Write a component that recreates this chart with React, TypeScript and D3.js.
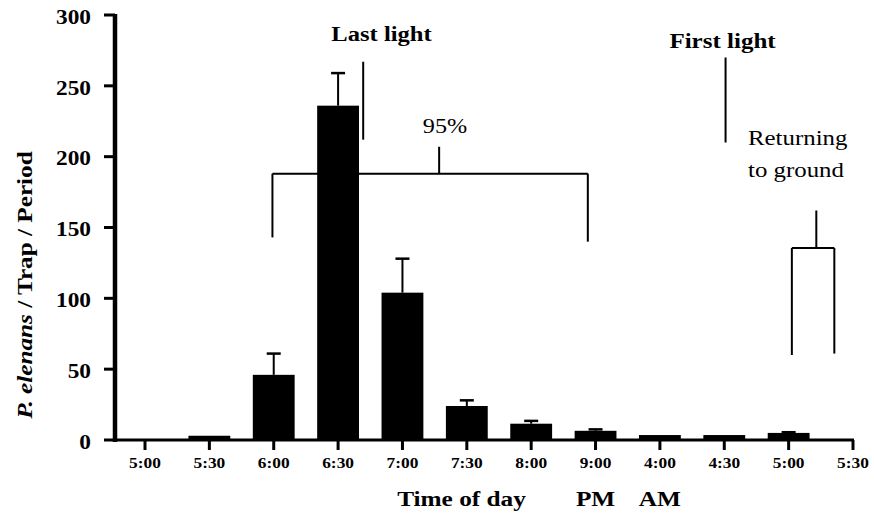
import React from "react";
import * as d3 from "d3";

// period start times along the x axis (evening then morning)
const timeLabels = ["5:00", "5:30", "6:00", "6:30", "7:00", "7:30", "8:00", "9:00", "4:00", "4:30", "5:00", "5:30"];
// mean catch per trap per period (last slot has no bar)
const meanCatch = [0, 3, 46, 236, 104, 24, 11.5, 6.5, 3.5, 3.5, 5, null];
// upper end of the error bar
const errorTop = [null, null, 61, 259, 128, 28, 13.5, 7.5, null, null, 5.5, null];
const yTicks = [0, 50, 100, 150, 200, 250, 300];

const W = 874;
const H = 514;
const font = "Liberation Serif";

// text with the scan's slightly wide lettering
const T = ({ x, y, rot = 0, sx = 1.15, children, ...rest }: any) => (
  <g transform={`translate(${x},${y}) rotate(${rot})`}>
    <text transform={`scale(${sx},1)`} style={{ fontFamily: font }} {...rest}>
      {children}
    </text>
  </g>
);

const App = () => {
  const x = d3.scaleLinear().domain([0, timeLabels.length - 1]).range([145, 853]);
  const y = d3.scaleLinear().domain([0, 300]).range([440, 15]);
  const step = x(1) - x(0);
  const barW = step * 0.65;

  const line = (x1: number, y1: number, x2: number, y2: number, w = 2) => (
    <line x1={x(x1)} y1={y(y1)} x2={x(x2)} y2={y(y2)} stroke="#000" strokeWidth={w} />
  );

  return (
    <svg width={W} height={H} style={{ position: "absolute", left: 0, top: 0, background: "#fff" }}>
      {/* bars */}
      {meanCatch.map((v, i) =>
        v == null ? null : (
          <rect key={"b" + i} x={x(i) - barW / 2} y={y(v)} width={barW} height={y(0) - y(v)} fill="#000" />
        )
      )}
      {/* error bars */}
      {errorTop.map((e, i) =>
        e == null ? null : (
          <g key={"e" + i} stroke="#000" strokeWidth={2}>
            <line x1={x(i)} x2={x(i)} y1={y(meanCatch[i] as number)} y2={y(e)} />
            <line x1={x(i) - 7} x2={x(i) + 7} y1={y(e)} y2={y(e)} strokeWidth={2.5} />
          </g>
        )
      )}

      {/* y axis */}
      <line x1={115} x2={115} y1={y(300) - 1} y2={y(0) + 2} stroke="#000" strokeWidth={4.5} />
      {yTicks.map((t) => (
        <g key={"y" + t}>
          <line x1={104} x2={115} y1={y(t)} y2={y(t)} stroke="#000" strokeWidth={3} />
          <T x={91} y={y(t)} sx={1.06} dy="0.4em" textAnchor="end" fontSize={22} fontWeight="bold">
            {t}
          </T>
        </g>
      ))}

      {/* x axis */}
      <line x1={113} x2={x(11) + 1} y1={y(0)} y2={y(0)} stroke="#000" strokeWidth={3} />
      {timeLabels.map((t, i) => (
        <g key={"x" + i}>
          <line x1={x(i)} x2={x(i)} y1={y(0)} y2={y(0) + 10} stroke="#000" strokeWidth={3} />
          <T x={x(i)} y={468} sx={1.12} textAnchor="middle" fontSize={15.5} fontWeight="bold">
            {t}
          </T>
        </g>
      ))}

      {/* axis titles */}
      <T x={461.5} y={506} textAnchor="middle" fontSize={22} fontWeight="bold">
        Time of day
      </T>
      <T x={x(7)} y={506} textAnchor="middle" fontSize={22} fontWeight="bold">
        PM
      </T>
      <T x={x(8)} y={506} textAnchor="middle" fontSize={22} fontWeight="bold">
        AM
      </T>
      <T x={32} y={285} rot={-90} sx={1.2} textAnchor="middle" fontSize={21} fontWeight="bold">
        <tspan fontStyle="italic">P. elenans</tspan> / Trap / Period
      </T>

      {/* last light */}
      <T x={381.5} y={41} sx={1.17} textAnchor="middle" fontSize={21} fontWeight="bold">
        Last light
      </T>
      {line(3.39, 267, 3.39, 212)}

      {/* 95% bracket */}
      <T x={445} y={133} sx={1.1} textAnchor="middle" fontSize={22}>
        95%
      </T>
      {line(1.98, 188, 6.88, 188)}
      {line(1.98, 188, 1.98, 143)}
      {line(6.88, 188, 6.88, 140)}
      {line(4.57, 188, 4.57, 207)}

      {/* first light */}
      <T x={722.5} y={48} sx={1.19} textAnchor="middle" fontSize={21} fontWeight="bold">
        First light
      </T>
      {line(9.02, 270, 9.02, 210)}

      {/* returning to ground */}
      <T x={748} y={145} sx={1.13} fontSize={22}>
        Returning
      </T>
      <T x={748} y={177} sx={1.13} fontSize={22}>
        to ground
      </T>
      {line(10.05, 135.5, 10.71, 135.5)}
      {line(10.05, 135.5, 10.05, 60)}
      {line(10.71, 135.5, 10.71, 61)}
      {line(10.43, 135.5, 10.43, 162)}
    </svg>
  );
};

export default App;
